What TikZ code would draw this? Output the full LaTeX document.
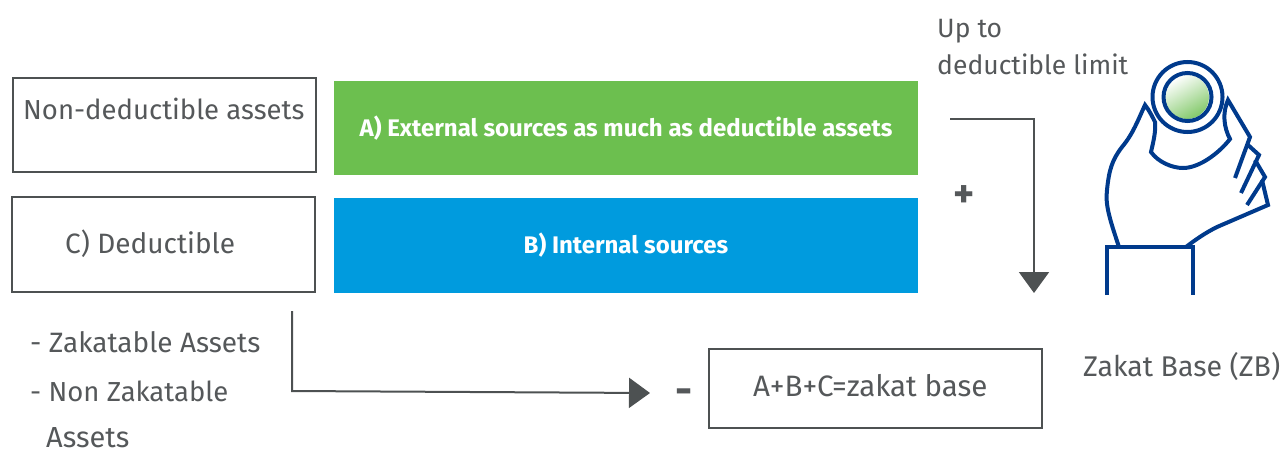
\documentclass[tikz,border=0pt]{standalone}
\usepackage{fontspec}
\setmainfont[Ligatures=NoCommon]{Fira Sans}
\usetikzlibrary{arrows.meta}
\definecolor{tx}{HTML}{55585A}
\definecolor{ln}{HTML}{4D5152}
\definecolor{gr}{HTML}{6CBF4F}
\definecolor{bl}{HTML}{009BDE}
\definecolor{nv}{HTML}{003A8C}
\newcommand{\fsz}[1]{\fontsize{#1}{#1}\selectfont}
\tikzset{
  lbl/.style={text=tx,font=\fsz{27.5},inner sep=0pt,anchor=base west},
  wbox/.style={draw=ln,line width=2.5pt,fill=white,inner sep=0pt},
  cbox/.style={inner sep=0pt,text=white,font=\bfseries\fsz{24}},
  conn/.style={draw=ln,line width=2pt,-{Triangle[length=21pt,width=30pt]}},
  hand/.style={draw=nv,line width=4pt,line join=miter}
}
\begin{document}
\begin{tikzpicture}[x=1pt,y=-1pt]
\useasboundingbox (0,0) rectangle (1282,450);
\node[wbox,minimum width=303pt,minimum height=94pt] (nd) at (164.5,125) {};
\node[lbl] (ndt) at (23,119) {Non-deductible assets};
\node[wbox,minimum width=303pt,minimum height=95pt] (cb) at (163.5,244.5) {};
\node[lbl,font=\fsz{28}] (cbt) at (65,253) {C) Deductible};
\node[cbox,fill=gr,minimum width=584pt,minimum height=94pt] (ga) at (626,128) {A) External sources as much as deductible assets};
\node[cbox,fill=bl,minimum width=584pt,minimum height=95pt] (bb) at (626,245.5) {B) Internal sources};
\node[wbox,minimum width=333pt,minimum height=79pt] (sum) at (875.5,388.5) {};
\node[lbl,font=\fsz{29.5}] (sumt) at (753,396) {A+B+C=zakat base};
\node[lbl,font=\fsz{26.5}] (up) at (937,37) {Up to};
\node[lbl,font=\fsz{26.5}] (lim) at (937,74) {deductible limit};
\node[lbl,font=\bfseries\fsz{40}] (plus) at (953,207) {+};
\node[lbl,font=\bfseries\fsz{42}] (minus) at (675,404) {-};
\node[lbl,font=\fsz{28}] (z1) at (30,352) {- Zakatable Assets};
\node[lbl] (z2) at (30,401) {- Non Zakatable};
\node[lbl,font=\fsz{29}] (z3) at (46,447) {Assets};
\node[lbl,font=\fsz{28.5}] (zb) at (1083,376) {Zakat Base (ZB)};
\coordinate (s1) at (950,119);
\coordinate (e1) at (1034,293);
\coordinate (s2) at (292,311);
\coordinate (e2) at (650,393);
\draw[conn] (s1) -- (1034,119) -- (e1);
\draw[conn] (s2) -- (292,391) -- (e2);
% hand
\shade[top color=white,bottom color=gr!85!white,shading angle=30] (1187,97) circle (22);
\draw[hand] (1187.5,97) circle (35);
\draw[hand] (1187.5,97) circle (24);
\draw[hand] (1119,247) .. controls (1110,220) and (1105,205) .. (1107,190)
  .. controls (1109,170) and (1112,160) .. (1122,147)
  .. controls (1133,134) and (1138,120) .. (1145,105)
  .. controls (1149,110) and (1152,116) .. (1155,122)
  .. controls (1156,132) and (1153,143) .. (1151,152)
  .. controls (1158,162) and (1172,168) .. (1183,168)
  .. controls (1200,168) and (1220,152) .. (1230,139)
  .. controls (1224,128) and (1222,113) .. (1228,100)
  -- (1250,137) -- (1235,178);
\draw[hand] (1248,145) -- (1259,155) -- (1241,193);
\draw[hand] (1255,160) -- (1265,177) -- (1247,205);
\draw[hand] (1262,180) -- (1268,205) -- (1217,227) .. controls (1205,233) and (1195,240) .. (1186,247);
\draw[hand] (1107,295) -- (1107,247) -- (1193,247) -- (1193,295);
\end{tikzpicture}
\end{document}
